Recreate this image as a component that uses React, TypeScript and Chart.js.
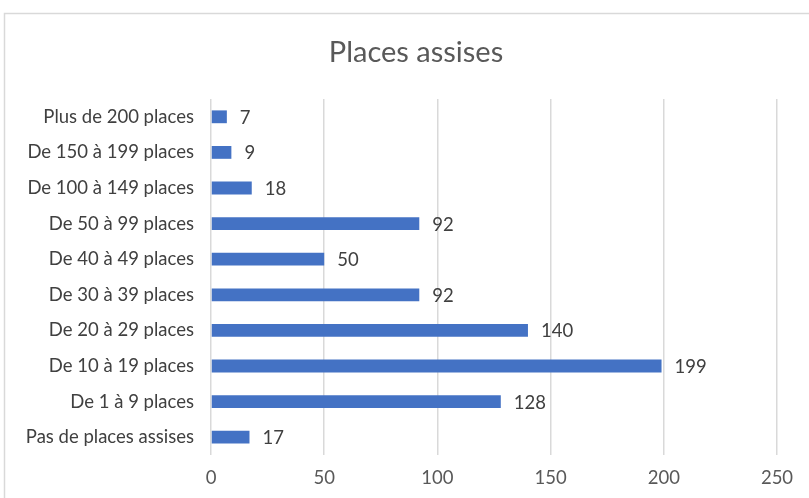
import React, { useEffect, useRef } from "react";
import { Chart, registerables } from "chart.js";

Chart.register(...registerables);

const categories = [
  "Plus de 200 places",
  "De 150 à 199 places",
  "De 100 à 149 places",
  "De 50 à 99 places",
  "De 40 à 49 places",
  "De 30 à 39 places",
  "De 20 à 29 places",
  "De 10 à 19 places",
  "De 1 à 9 places",
  "Pas de places assises",
];
const values = [7, 9, 18, 92, 50, 92, 140, 199, 128, 17];
const titleText = "Places assises";
const xMin = 0;
const xMax = 250;
const xStep = 50;

const FONT = "Lato, 'Open Sans', sans-serif";

export default function App() {
  const ref = useRef<HTMLCanvasElement | null>(null);

  useEffect(() => {
    document.body.style.margin = "0";
    const canvas = ref.current;
    if (!canvas) return;

    const decor = {
      id: "decor",
      beforeDraw(chart: any) {
        const ctx = chart.ctx;
        ctx.save();
        ctx.fillStyle = "#ffffff";
        ctx.fillRect(0, 0, chart.width, chart.height);
        ctx.strokeStyle = "#d9d9d9";
        ctx.lineWidth = 1.5;
        ctx.strokeRect(4.5, 13.5, chart.width + 20, chart.height + 20);
        ctx.restore();
      },
      afterDraw(chart: any) {
        const ctx = chart.ctx;
        ctx.save();
        ctx.fillStyle = "#595959";
        ctx.font = `29px ${FONT}`;
        ctx.textAlign = "center";
        ctx.textBaseline = "alphabetic";
        ctx.fillText(titleText, 416, 62);
        const meta = chart.getDatasetMeta(0);
        ctx.font = `18.5px ${FONT}`;
        ctx.fillStyle = "#404040";
        ctx.textAlign = "left";
        ctx.textBaseline = "middle";
        meta.data.forEach((bar: any, i: number) => {
          ctx.fillText(String(values[i]), bar.x + 13, bar.y + 1);
        });
        ctx.restore();
      },
    };

    const chart = new Chart(canvas, {
      type: "bar",
      data: {
        labels: categories,
        datasets: [
          {
            data: values,
            backgroundColor: "#4472C4",
            borderWidth: 0,
            barPercentage: 0.36,
            categoryPercentage: 1,
          },
        ],
      },
      options: {
        indexAxis: "y",
        animation: false,
        responsive: false,
        maintainAspectRatio: false,
        layout: { padding: { top: 99, right: 32, bottom: 0, left: 0 } },
        plugins: {
          legend: { display: false },
          title: { display: false },
          tooltip: { enabled: false },
        },
        scales: {
          x: {
            min: xMin,
            max: xMax,
            ticks: {
              stepSize: xStep,
              color: "#595959",
              font: { family: FONT, size: 18.5 },
              padding: 12,
            },
            grid: { color: "#d9d9d9", lineWidth: 1.5, drawTicks: false },
            border: { display: false },
            afterFit(scale: any) {
              scale.height = 43;
            },
          },
          y: {
            ticks: {
              color: "#404040",
              font: { family: FONT, size: 18.5 },
              padding: 17,
            },
            grid: { display: false, drawTicks: false },
            border: { display: false },
            afterFit(scale: any) {
              scale.width = 211;
            },
          },
        },
      },
      plugins: [decor],
    });
    return () => chart.destroy();
  }, []);

  return (
    <div style={{ position: "absolute", left: 0, top: 0, width: 809, height: 498 }}>
      <canvas ref={ref} width={809} height={498} style={{ display: "block" }} />
    </div>
  );
}
